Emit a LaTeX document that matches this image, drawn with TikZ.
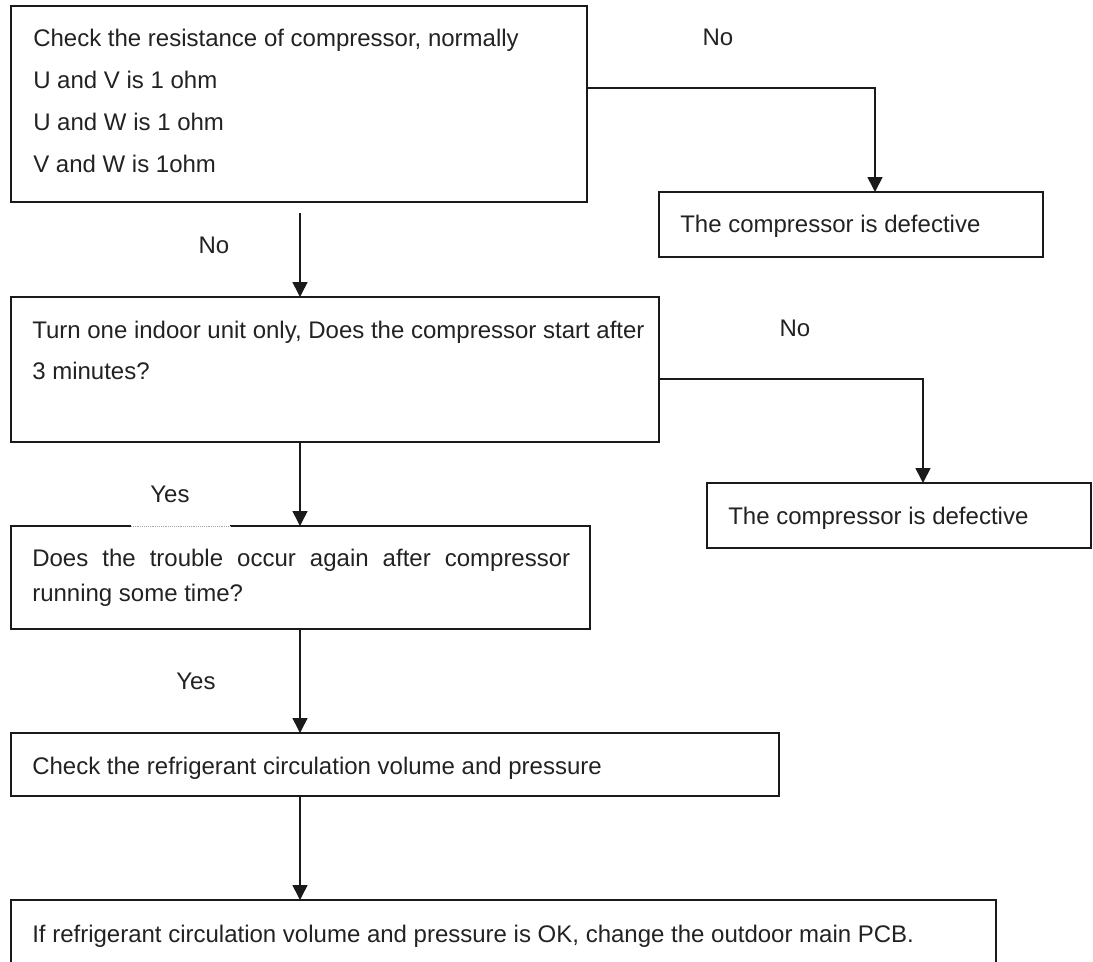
\documentclass[tikz,border=0pt]{standalone}
\usepackage{fontspec}
\setmainfont{Liberation Sans}
\usetikzlibrary{arrows.meta,calc,fit}
\newdimen\pxu \pxu=0.75pt
\definecolor{ink}{HTML}{1A1A1A}
\definecolor{txtc}{HTML}{222222}
\begin{document}
\begin{tikzpicture}[x=0.75pt,y=-0.75pt,
  box/.style={draw=ink, line width=1.3pt, rectangle, inner sep=0pt, outer sep=0pt},
  txt/.style={anchor=base west, inner sep=0pt, font=\fontsize{18pt}{21pt}\selectfont, text=txtc},
  lbl/.style={anchor=center, inner sep=0pt, font=\fontsize{18pt}{21pt}\selectfont, text=txtc},
  arr/.style={draw=ink, line width=1.2pt, -{Triangle[width=11.25pt,length=11.25pt]}}]
\useasboundingbox (0,0) rectangle (1093,961);
\clip (0,0) rectangle (1093,961);

% boxes
\node[box, fit={(11,6) (587,202)}] (A) {};
\node[box, fit={(659,192) (1043,257)}] (B) {};
\node[box, fit={(11,297) (659,442)}] (C) {};
\node[box, fit={(707,483) (1091,548)}] (D) {};
\node[box, fit={(11,526) (590,629)}] (E) {};
\node[box, fit={(11,733) (779,796)}] (F) {};
\node[box, fit={(11,900) (996,1010)}] (G) {};

% gap in top border of E
\draw[white, line width=2pt] ($(E.north west)+(120,0)$) coordinate (eg1) -- ($(E.north west)+(219,0)$) coordinate (eg2);
\draw[black!35, line width=0.4pt, densely dotted] (eg1) -- (eg2);

% texts
\node[txt] (a1) at (33,46) {Check the resistance of compressor, normally};
\node[txt] (a2) at (33,88) {U and V is 1 ohm};
\node[txt] (a3) at (33,130) {U and W is 1 ohm};
\node[txt] (a4) at (33,172) {V and W is 1ohm};
\node[txt] (b1) at (680,232) {The compressor is defective};
\node[txt] (c1) at (32,338) {Turn one indoor unit only, Does the compressor start after};
\node[txt] (c2) at (32,379) {3 minutes?};
\node[txt] (d1) at (728,524) {The compressor is defective};
\node[txt] (e1) at (32,566) {\makebox[538\pxu][s]{Does the trouble occur again after compressor}};
\node[txt] (e2) at (32,601) {running some time?};
\node[txt] (f1) at (32,774) {Check the refrigerant circulation volume and pressure};
\node[txt] (g1) at (32,942) {If refrigerant circulation volume and pressure is OK, change the outdoor main PCB.};

% labels
\node[lbl] (n1) at (718,37) {No};
\node[lbl] (n2) at (214,245) {No};
\node[lbl] (n3) at (795,328) {No};
\node[lbl] (y1) at (170,494) {Yes};
\node[lbl] (y2) at (196,681) {Yes};

% connectors
\draw[arr] ($(A.north east)+(0,82)$) -| ($(B.north west)+(216,0)$);
\draw[arr] ($(A.south west)+(289,11)$) -- ($(C.north west)+(289,0)$);
\draw[arr] ($(C.north east)+(0,82)$) -| ($(D.north west)+(216,0)$);
\draw[arr] ($(C.south west)+(289,0)$) -- ($(E.north west)+(289,0)$);
\draw[arr] ($(E.south west)+(289,0)$) -- ($(F.north west)+(289,0)$);
\draw[arr] ($(F.south west)+(289,0)$) -- ($(G.north west)+(289,0)$);
\end{tikzpicture}
\end{document}
